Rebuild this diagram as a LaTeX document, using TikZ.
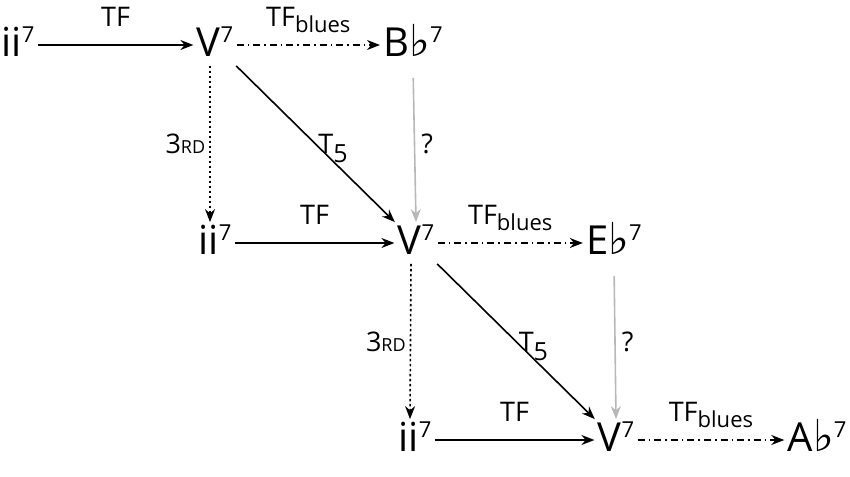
\documentclass[tikz,border=0pt]{standalone}
\usepackage{fontspec}
\setmainfont{Open Sans}
\newfontfamily\flatfont{DejaVu Sans}
\usetikzlibrary{arrows.meta}
\newcommand{\sev}{\raisebox{7pt}{\fontsize{11}{11}\selectfont 7}}
\newcommand{\flt}{{\flatfont\fontsize{22}{22}\selectfont ♭}}
\newcommand{\blues}{TF\raisebox{-3pt}{\fontsize{11}{11}\selectfont blues}}
\begin{document}
\begin{tikzpicture}[x=0.5pt,y=-0.5pt,
  chord/.style={font=\fontsize{20}{20}\selectfont, text height=14.5pt, text depth=3pt, inner sep=1.5pt},
  lbl/.style={font=\fontsize{13.5}{13.5}\selectfont, text depth=0pt, inner sep=1pt},
  tf/.style={-{Stealth[length=6.5pt,width=5pt]}, line width=0.8pt},
  bl/.style={tf, dash pattern=on 3.5pt off 2pt on 0.8pt off 2pt},
  third/.style={tf, dash pattern=on 1.2pt off 1.3pt},
  query/.style={tf, draw=black!28}]
\useasboundingbox (0,0) rectangle (850,476);
\node[chord] (i1) at (18,45) {ii\sev};
\node[chord] (V1) at (215,45) {V\sev};
\node[chord] (B1) at (413,45) {B\flt\sev};
\node[chord] (i2) at (215,243) {ii\sev};
\node[chord] (V2) at (416,243) {V\sev};
\node[chord] (E2) at (614,243) {E\flt\sev};
\node[chord] (i3) at (415,440) {ii\sev};
\node[chord] (V3) at (616,440) {V\sev};
\node[chord] (A3) at (817,440) {A\flt\sev};

\draw[tf] (i1) -- node[lbl,above=8pt] {TF} (V1);
\draw[bl] (V1) -- node[lbl,above=8pt] {\blues} (B1);
\draw[third] ([xshift=-2.5pt]V1.south) -- node[lbl,left=1pt] {3{\fontsize{9}{9}\selectfont RD}} ([xshift=-2.5pt]i2.north);
\draw[tf] (V1) -- node[lbl,anchor=west] {T\raisebox{-4.5pt}{\fontsize{12.5}{12.5}\selectfont 5}} (V2);
\draw[query, shorten <=6pt] (B1.south) -- node[lbl,right=2pt,text=black] {?} (V2.north);

\draw[tf] (i2) -- node[lbl,above=8pt] {TF} (V2);
\draw[bl] (V2) -- node[lbl,above=8pt] {\blues} (E2);
\draw[third] ([xshift=-2.5pt]V2.south) -- node[lbl,left=1pt] {3{\fontsize{9}{9}\selectfont RD}} ([xshift=-2.5pt]i3.north);
\draw[tf] (V2) -- node[lbl,anchor=west] {T\raisebox{-4.5pt}{\fontsize{12.5}{12.5}\selectfont 5}} (V3);
\draw[query, shorten <=6pt] (E2.south) -- node[lbl,right=2pt,text=black] {?} (V3.north);

\draw[tf] (i3) -- node[lbl,above=8pt] {TF} (V3);
\draw[bl] (V3) -- node[lbl,above=8pt] {\blues} (A3);
\end{tikzpicture}
\end{document}
